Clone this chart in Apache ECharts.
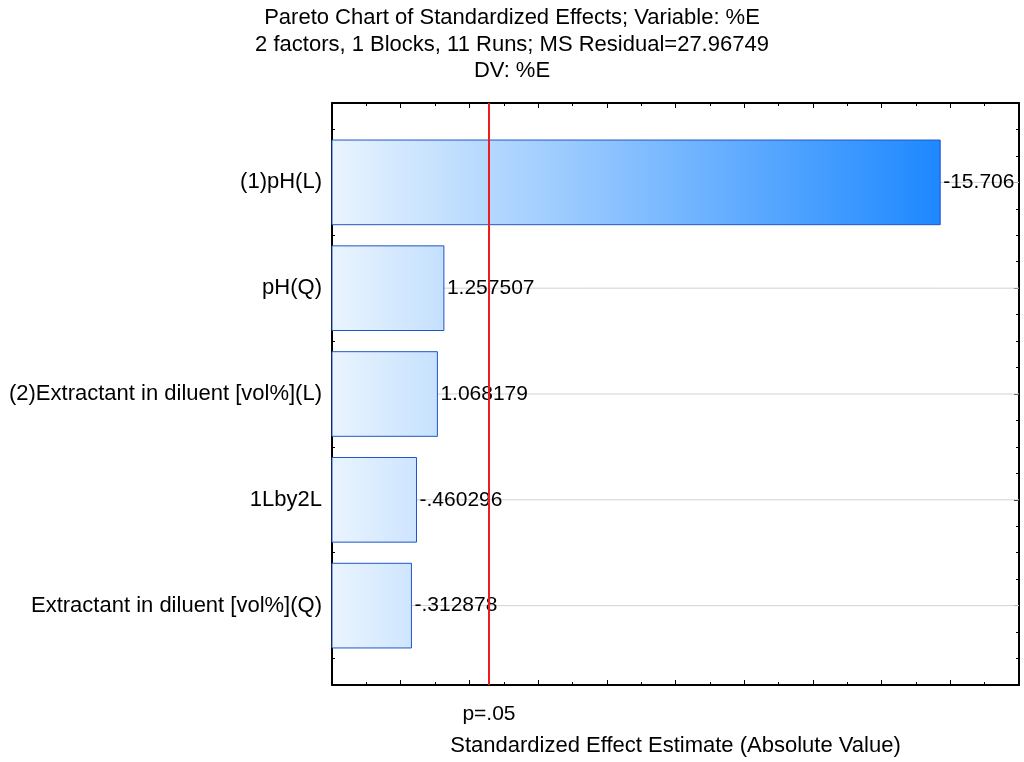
<!DOCTYPE html>
<html>
<head>
<meta charset="utf-8">
<script src="https://cdn.jsdelivr.net/npm/echarts@6/dist/echarts.min.js"></script>
<style>
  html, body { margin: 0; padding: 0; background: #fff; }
  #chart { width: 1024px; height: 762px; }
</style>
</head>
<body>
<div id="chart"></div>
<script>
// Effects of the 3^(k) design, sorted by absolute size
const categories = [
  '(1)pH(L)',
  'pH(Q)',
  '(2)Extractant in diluent [vol%](L)',
  '1Lby2L',
  'Extractant in diluent [vol%](Q)'
];
const effects = [-15.706, 1.257507, 1.068179, -0.460296, -0.312878];

// Critical t value for p = .05 (5 residual df)
const pCritical = 2.570582;
const pLabel = 'p=.05';

// Horizontal scale of the effect axis
const xMin = -2;
const xMax = 18;

const titleLines = [
  'Pareto Chart of Standardized Effects; Variable: %E',
  '2 factors, 1 Blocks, 11 Runs; MS Residual=27.96749',
  'DV: %E'
];
const xAxisTitle = 'Standardized Effect Estimate (Absolute Value)';

const FONT = "'Liberation Sans', Arial, sans-serif";
const FS = 22;

// Statistica-style number text: drop the leading zero
function fmt(v) {
  return String(v).replace(/^(-?)0\./, '$1.');
}

const maxAbs = Math.max.apply(null, effects.map(Math.abs));
const barData = effects.map(function (e, i) { return [Math.abs(e), i, e]; });

const chart = echarts.init(document.getElementById('chart'), null, { renderer: 'canvas' });

const frameLine = { show: true, onZero: false, lineStyle: { color: '#000', width: 2 } };
const tickStyle = { color: '#000', width: 1 };

function renderBar(params, api) {
  const idx = api.value(1);
  const signed = barData[params.dataIndex][2];
  const start = api.coord([xMin, idx]);
  const end = api.coord([api.value(0), idx]);
  const right = api.coord([xMax, idx]);
  const gradEnd = api.coord([maxAbs, idx]);
  const band = api.size([0, 1])[1];
  const h = band * 0.8;
  const fill = new echarts.graphic.LinearGradient(
    start[0], 0, gradEnd[0], 0,
    [{ offset: 0, color: '#eaf4fe' }, { offset: 1, color: '#1d88ff' }],
    true
  );
  return {
    type: 'group',
    children: [
      {
        type: 'line',
        shape: { x1: start[0], y1: start[1], x2: right[0], y2: right[1] },
        style: { stroke: '#d2d2d2', lineWidth: 1 }
      },
      {
        type: 'rect',
        shape: { x: start[0], y: start[1] - h / 2, width: end[0] - start[0], height: h },
        style: { fill: fill, stroke: '#1f56c8', lineWidth: 1 }
      },
      {
        type: 'text',
        style: {
          text: fmt(signed),
          x: end[0] + 3,
          y: end[1],
          align: 'left',
          verticalAlign: 'middle',
          fontSize: FS - 1,
          fontFamily: FONT,
          fill: '#000'
        }
      }
    ]
  };
}

const option = {
  animation: false,
  backgroundColor: '#fff',
  textStyle: { fontFamily: FONT },
  title: {
    text: titleLines.join('\n'),
    left: 'center',
    top: 5,
    padding: [0, 0, 0, 12],
    textStyle: {
      fontSize: FS,
      fontWeight: 'normal',
      color: '#000',
      fontFamily: FONT,
      lineHeight: 26.5
    }
  },
  grid: [
    // plotting frame
    { left: 332, right: 5, top: 103, bottom: 77 },
    // category band area, inset by a quarter band top and bottom
    { left: 332, right: 5, top: 129.45, bottom: 103.45 }
  ],
  xAxis: [
    {
      gridIndex: 0, type: 'value', position: 'bottom',
      min: xMin, max: xMax, interval: 2,
      axisLine: frameLine,
      axisTick: { show: true, inside: true, length: 5, lineStyle: tickStyle },
      minorTick: { show: true, splitNumber: 2, length: 3, lineStyle: tickStyle },
      axisLabel: { show: false },
      splitLine: { show: false },
      name: xAxisTitle,
      nameLocation: 'middle',
      nameGap: 50,
      nameTextStyle: { fontSize: FS, color: '#000', fontFamily: FONT }
    },
    {
      gridIndex: 0, type: 'value', position: 'top',
      min: xMin, max: xMax, interval: 2,
      axisLine: frameLine,
      axisTick: { show: true, inside: true, length: 5, lineStyle: tickStyle },
      minorTick: { show: true, splitNumber: 2, length: 3, lineStyle: tickStyle },
      axisLabel: { show: false },
      splitLine: { show: false }
    },
    {
      gridIndex: 1, type: 'value',
      min: xMin, max: xMax,
      show: false
    }
  ],
  yAxis: [
    {
      gridIndex: 0, type: 'value', position: 'left',
      min: -0.75, max: 4.75, interval: 0.25,
      axisLine: frameLine,
      axisTick: { show: true, inside: true, length: 3, lineStyle: tickStyle },
      axisLabel: { show: false },
      splitLine: { show: false }
    },
    {
      gridIndex: 0, type: 'value', position: 'right',
      min: -0.75, max: 4.75, interval: 0.25,
      axisLine: frameLine,
      axisTick: { show: true, inside: true, length: 3, lineStyle: tickStyle },
      axisLabel: { show: false },
      splitLine: { show: false }
    },
    {
      gridIndex: 1, type: 'category', position: 'left', inverse: true,
      data: categories,
      axisLine: { show: false, onZero: false },
      axisTick: { show: true, inside: true, alignWithLabel: true, length: 5, lineStyle: tickStyle },
      axisLabel: { show: true, margin: 10, fontSize: FS, color: '#000', fontFamily: FONT },
      splitLine: { show: false }
    },
    {
      gridIndex: 1, type: 'category', position: 'right', inverse: true,
      data: categories,
      axisLine: { show: false, onZero: false },
      axisTick: { show: true, inside: true, alignWithLabel: true, length: 5, lineStyle: tickStyle },
      axisLabel: { show: false },
      splitLine: { show: false }
    }
  ],
  series: [
    {
      type: 'custom',
      name: 'effects',
      xAxisIndex: 2,
      yAxisIndex: 2,
      z: 2,
      renderItem: renderBar,
      encode: { x: 0, y: 1 },
      data: barData,
      silent: true
    },
    {
      type: 'line',
      name: 'critical',
      xAxisIndex: 0,
      yAxisIndex: 0,
      z: 5,
      data: [],
      silent: true,
      markLine: {
        silent: true,
        symbol: ['none', 'none'],
        lineStyle: { color: '#ee1c1c', width: 2, type: 'solid' },
        label: {
          show: true,
          position: 'start',
          formatter: pLabel,
          distance: 19,
          fontSize: FS - 1,
          color: '#000',
          fontFamily: FONT
        },
        emphasis: { disabled: true },
        data: [{ xAxis: pCritical }]
      }
    }
  ]
};

chart.setOption(option);
</script>
</body>
</html>
